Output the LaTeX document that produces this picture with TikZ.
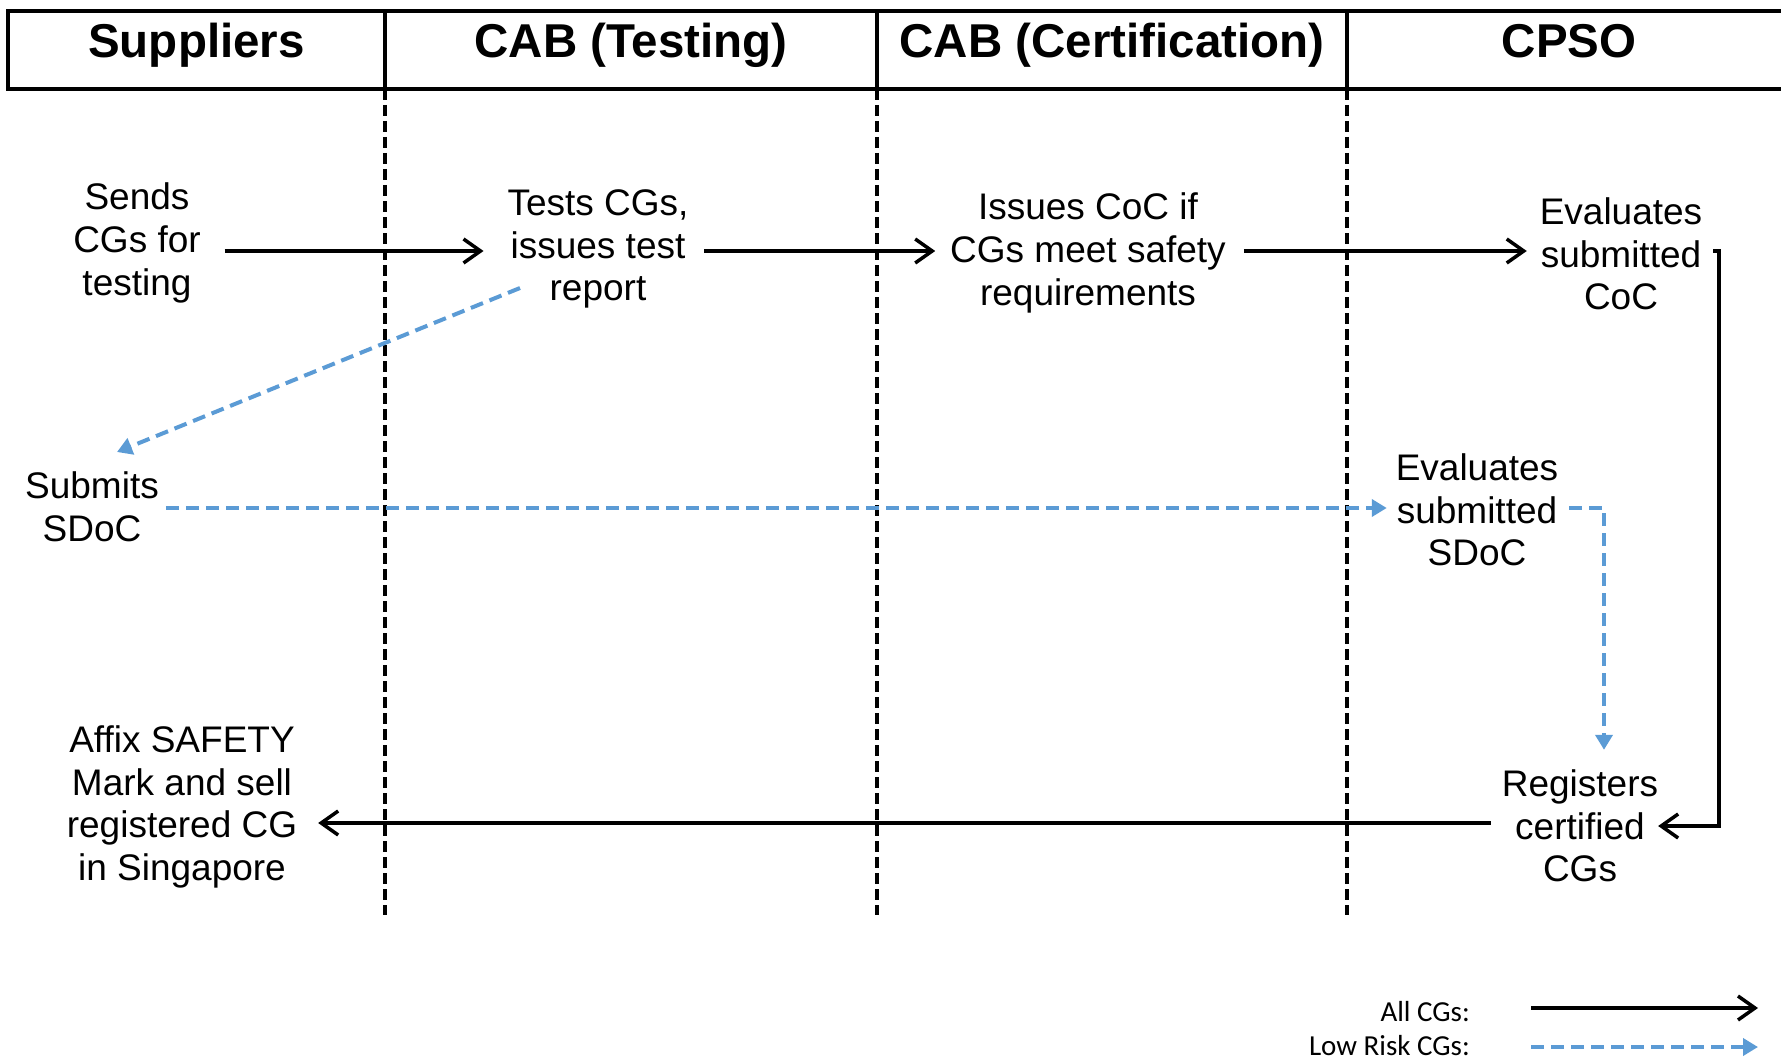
\documentclass[tikz,border=0pt]{standalone}
\usepackage{fontspec}
\setmainfont{Liberation Sans}
\newfontfamily\legendfont{Carlito}
\usetikzlibrary{arrows.meta,calc}
\definecolor{lowblue}{HTML}{5B9BD5}
\begin{document}
\begin{tikzpicture}[x=1pt,y=-1pt,
  lbl/.style={font=\fontsize{37}{42.6}\selectfont, align=center, inner sep=0pt, outer sep=0pt},
  hdr/.style={font=\bfseries\fontsize{47.5}{50}\selectfont, anchor=base, inner sep=0pt},
  leg/.style={font=\legendfont\fontsize{29}{32}\selectfont, anchor=base east, inner sep=0pt},
  frame/.style={line width=4pt},
  divider/.style={line width=3.6pt, dash pattern=on 11pt off 5pt},
  allarr/.style={line width=3.5pt, -{Straight Barb[length=17pt,width=24pt]}},
  lowarr/.style={draw=lowblue, line width=4pt, dash pattern=on 13pt off 7pt, -{Triangle[length=15pt,width=17pt]}}
]
\useasboundingbox (0,0) rectangle (1781,1062);

% header
\draw[frame] (1781,11) -- (8,11) -- (8,89) -- (1781,89);
\draw[frame] (385,11) -- (385,89);
\draw[frame] (877,11) -- (877,89);
\draw[frame] (1347,11) -- (1347,89);
\node[hdr] (h1) at (196.5,58) {Suppliers};
\node[hdr] (h2) at (631,58) {CAB (Testing)};
\node[hdr] (h3) at (1112,58) {CAB (Certification)};
\node[hdr] (h4) at (1569,58) {CPSO};

% lane dividers
\draw[divider] (385,89) -- (385,915);
\draw[divider] (877,89) -- (877,915);
\draw[divider] (1347,89) -- (1347,915);

% rows
\coordinate (row1) at (0,251);
\coordinate (row2) at (0,508);
\coordinate (row3) at (0,823);

% nodes
\node[lbl] (sends) at (137,243) {Sends\\CGs for\\testing};
\node[lbl] (tests) at (598,249) {Tests CGs,\\issues test\\report};
\node[lbl] (issues) at (1088,253) {Issues CoC if\\CGs meet safety\\requirements};
\node[lbl] (evalcoc) at (1621,254) {Evaluates\\submitted\\CoC};
\node[lbl] (submits) at (92,507) {Submits\\SDoC};
\node[lbl] (evalsdoc) at (1477,510) {Evaluates\\submitted\\SDoC};
\node[lbl] (registers) at (1580,826) {Registers\\certified\\CGs};
\node[lbl] (affix) at (182,807) {Affix SAFETY\\Mark and sell\\registered CG\\in Singapore};

% all CGs flow
\draw[allarr, shorten <=24pt, shorten >=24pt] (sends.east |- row1) -- (tests.west |- row1);
\draw[allarr, shorten <=16pt, shorten >=15pt] (tests.east |- row1) -- (issues.west |- row1);
\draw[allarr, shorten <=18pt, shorten >=13pt] (issues.east |- row1) -- (evalcoc.west |- row1);
\draw[allarr, shorten <=11pt] (evalcoc.east |- row1) -| ($(registers.east)+(61,0)$) -- (registers.east);
\draw[allarr, shorten <=11pt, shorten >=21pt] (registers.west |- row3) -- (affix.east |- row3);

% low risk flow
\draw[lowarr] ($(tests.center)+(-78,39)$) -- ($(submits.center)+(25,-55)$);
\draw[lowarr, shorten <=7pt, shorten >=9pt] (submits.east |- row2) -- (evalsdoc.west |- row2);
\draw[lowarr, shorten <=11pt] (evalsdoc.east |- row2) -| ($(registers.north)+(24,-20)$);

% legend
\node[leg] (lall) at (1470,1021) {All CGs:};
\node[leg] (llow) at (1470,1055) {Low Risk CGs:};
\coordinate (la1) at (1531,1008);
\coordinate (la2) at (1758,1008);
\coordinate (lb1) at (1531,1047);
\coordinate (lb2) at (1758,1047);
\draw[allarr] (la1) -- (la2);
\draw[lowarr] (lb1) -- (lb2);
\end{tikzpicture}
\end{document}
